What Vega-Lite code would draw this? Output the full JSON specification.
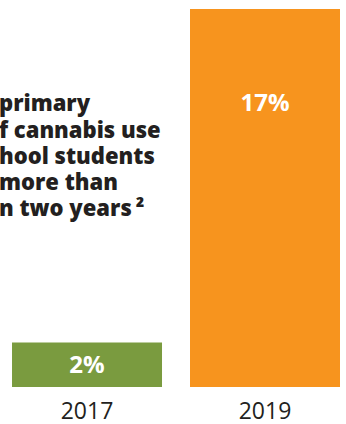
{
  "$schema": "https://vega.github.io/schema/vega-lite/v6.json",
  "width": 346,
  "height": 387,
  "padding": 0,
  "background": "white",
  "config": {"view": {"stroke": null}, "font": "Open Sans"},
  "data": {"values": [
    {"year": "2017", "value": 2, "label": "2%"},
    {"year": "2019", "value": 17, "label": "17%"}
  ]},
  "layer": [
    {
      "mark": {"type": "bar"},
      "encoding": {
        "x": {"field": "year", "type": "nominal", "sort": null,
          "scale": {"paddingInner": 0.1573, "paddingOuter": 0.0506, "align": 0.667},
          "axis": {"title": null, "ticks": false, "domain": false, "labelAngle": 0, "labelFontSize": 23, "labelColor": "#231f20", "labelPadding": 13, "labelFont": "Open Sans"}},
        "y": {"field": "value", "type": "quantitative", "scale": {"domain": [0, 17.4], "nice": false}, "axis": null},
        "color": {"field": "year", "type": "nominal", "scale": {"domain": ["2017", "2019"], "range": ["#7a9b3f", "#f7941e"]}, "legend": null}
      }
    },
    {
      "transform": [{"filter": "datum.year == '2017'"}],
      "mark": {"type": "text", "color": "white", "fontWeight": "bold", "fontSize": 24, "baseline": "middle", "dy": 1},
      "encoding": {
        "x": {"field": "year", "type": "nominal", "sort": null},
        "y": {"datum": 1},
        "text": {"field": "label"}
      }
    },
    {
      "transform": [{"filter": "datum.year == '2019'"}],
      "mark": {"type": "text", "color": "white", "fontWeight": "bold", "fontSize": 24, "baseline": "alphabetic"},
      "encoding": {
        "x": {"field": "year", "type": "nominal", "sort": null},
        "y": {"datum": 12.41},
        "text": {"field": "label"}
      }
    },
    {
      "data": {"values": [{"note": ["primary", "f cannabis use", "hool students", "more than", "n two years\u2009²"]}]},
      "mark": {"type": "text", "align": "left", "baseline": "alphabetic", "fontWeight": 800, "fontSize": 22, "lineHeight": 26.3, "color": "#231f20", "dx": -13, "clip": true},
      "encoding": {
        "x": {"datum": "2017", "type": "nominal", "bandPosition": 0},
        "y": {"datum": 12.4},
        "text": {"field": "note"}
      }
    }
  ]
}
